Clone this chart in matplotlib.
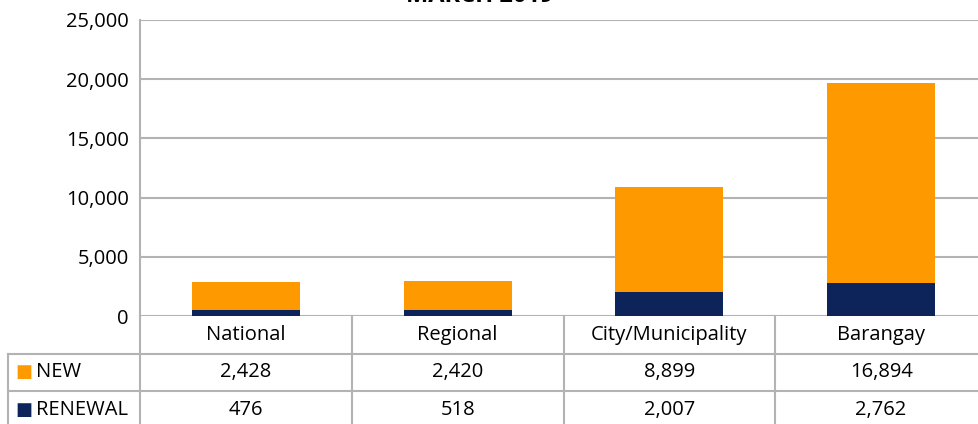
import matplotlib
matplotlib.use("Agg")
import matplotlib.pyplot as plt
from matplotlib.lines import Line2D
from matplotlib.transforms import blended_transform_factory

categories = ["National", "Regional", "City/Municipality", "Barangay"]
new_vals = [2428, 2420, 8899, 16894]
renewal_vals = [476, 518, 2007, 2762]
series_names = ["NEW", "RENEWAL"]
y_ticks = [0, 5000, 10000, 15000, 20000, 25000]
title = "MARCH 2019"

ORANGE = "#ff9900"
NAVY = "#0d245a"
GRID = "#b3b3b3"

W, H = 979, 424
plt.rcParams["font.family"] = ["Open Sans", "DejaVu Sans"]
plt.rcParams["font.size"] = 14.5

fig = plt.figure(figsize=(W / 100, H / 100), dpi=100)


def fx(px):
    return px / W


def fy(py):
    return 1 - py / H


# axes box in pixels: left 140, right ~987 (runs past the edge), top 20, bottom 316
ax = fig.add_axes([fx(140), fy(316), fx(987 - 140), (316 - 20) / H])

x = list(range(len(categories)))
ax.bar(x, renewal_vals, width=0.51, color=NAVY, zorder=3)
ax.bar(x, new_vals, width=0.51, bottom=renewal_vals, color=ORANGE, zorder=3)

ax.set_xlim(-0.5, len(categories) - 0.5)
ax.set_ylim(0, 25000)
ax.set_yticks(y_ticks)
ax.set_yticklabels([f"{v:,}" for v in y_ticks])
ax.set_xticks([])
ax.yaxis.grid(True, color=GRID, linewidth=1.5, zorder=0)
ax.tick_params(axis="y", length=0, pad=8)
for side in ["top", "right", "bottom"]:
    ax.spines[side].set_visible(False)
ax.spines["left"].set_color(GRID)
ax.spines["left"].set_linewidth(1.5)

# title sits mostly above the top edge, as in the source image
fig.text(fx(480), fy(2), title, ha="center", va="baseline",
         fontsize=17, fontweight="bold")

# --- data table under the axis ---
tr = blended_transform_factory(ax.transData, fig.transFigure)
row_h = 37.5
top = 316
rows = [categories, [f"{v:,}" for v in new_vals], [f"{v:,}" for v in renewal_vals]]
n_rows = len(rows)
bottom = top + row_h * n_rows

# vertical column borders
for b in [i - 0.5 for i in range(len(categories) + 1)]:
    fig.add_artist(Line2D([b, b], [fy(top), fy(bottom)], transform=tr,
                          color=GRID, linewidth=1.5, clip_on=False))
# left border of label column
fig.add_artist(Line2D([fx(8), fx(8)], [fy(top + row_h), fy(bottom)],
                      color=GRID, linewidth=1.5))
# horizontal row borders
for r in range(1, n_rows + 1):
    yy = fy(top + row_h * r)
    fig.add_artist(Line2D([fx(8), fx(W + 10)], [yy, yy], color=GRID, linewidth=1.5))

for r, vals in enumerate(rows):
    yc = fy(top + row_h * (r + 0.5))
    for i, v in enumerate(vals):
        fig.text(x[i], yc, v, transform=tr, ha="center", va="center")

for r, (name, col) in enumerate(zip(series_names, [ORANGE, NAVY])):
    yc = fy(top + row_h * (r + 1.5))
    fig.text(fx(15), yc, "■", color=col, ha="left", va="center",
             fontsize=13, family="DejaVu Sans")
    fig.text(fx(36), yc, name, ha="left", va="center")

fig.savefig("out.png", dpi=100)
